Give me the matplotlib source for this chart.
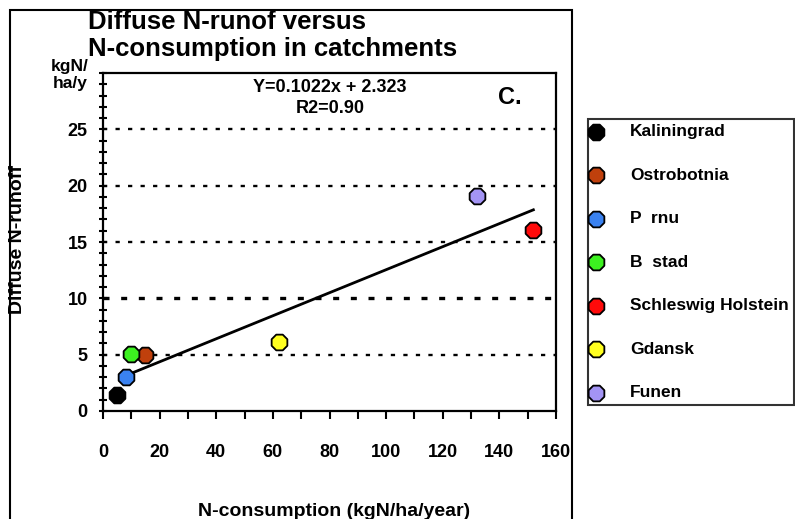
import matplotlib
matplotlib.use("Agg")
import matplotlib.pyplot as plt
from matplotlib.patches import Rectangle
from matplotlib.ticker import MultipleLocator

plt.rcParams['font.family'] = ['Liberation Sans', 'DejaVu Sans']
plt.rcParams['font.weight'] = 'bold'

# data
regions = ['Kaliningrad', 'Ostrobotnia', 'P  rnu', 'B  stad', 'Schleswig Holstein', 'Gdansk', 'Funen']
n_consumption = [5, 15, 8, 10, 152, 62, 132]
n_runoff = [1.4, 5.0, 3.0, 5.1, 16.1, 6.1, 19.1]
colors = ['#000000', '#c0400c', '#3a82f0', '#3cf020', '#ff0a0a', '#ffff20', '#a394f4']

slope, intercept = 0.1022, 2.323
fit_x = [8, 152]

fig = plt.figure(figsize=(7.95, 5.19), dpi=100)
ax = fig.add_axes([0.1296, 0.2081, 0.5698, 0.6512])

# outer frame
fig.patches.append(Rectangle((10 / 795, -0.05), (572 - 10) / 795, (519 - 10) / 519 + 0.05,
                             transform=fig.transFigure, fill=False, lw=1.5, ec='black'))

for y in [5, 10, 15, 20, 25]:
    ax.axhline(y, color='black', lw=2.4 if y == 10 else 1.7, ls=(0, (1.8, 3.5)), zorder=1)

ax.plot(fit_x, [slope * x + intercept for x in fit_x], color='black', lw=2, zorder=2)

for i in range(len(regions)):
    ax.scatter(n_consumption[i], n_runoff[i], s=150, marker='8', color=colors[i],
               edgecolor='black', linewidth=1.3, zorder=3, label=regions[i])

ax.set_xlim(0, 160)
ax.set_ylim(0, 30)
ax.xaxis.set_major_locator(MultipleLocator(20))
ax.xaxis.set_minor_locator(MultipleLocator(10))
ax.set_yticks([0, 5, 10, 15, 20, 25])
ax.yaxis.set_minor_locator(MultipleLocator(1))
ax.tick_params(axis='x', which='both', direction='out', length=6, width=1.5, pad=18, labelsize=13)
ax.tick_params(axis='y', which='both', direction='inout', length=6, width=1.5, pad=8, labelsize=13)
for s in ax.spines.values():
    s.set_linewidth(1.6)

fig.text(88 / 795, 1 - 22 / 519, 'Diffuse N-runof versus', fontsize=18.5,
         fontweight='bold', va='center', ha='left')
fig.text(88 / 795, 1 - 49 / 519, 'N-consumption in catchments', fontsize=18.5,
         fontweight='bold', va='center', ha='left')
fig.text(70 / 795, 1 - 75 / 519, 'kgN/\nha/y', fontsize=12.5, fontweight='bold', ha='center', va='center')
fig.text(18 / 795, 1 - 240 / 519, 'Diffuse N-runoff', fontsize=14, fontweight='bold',
         rotation=90, ha='center', va='center')
fig.text(334 / 795, 1 - 511 / 519, 'N-consumption (kgN/ha/year)', fontsize=14,
         fontweight='bold', ha='center', va='center')
fig.text(330 / 795, 1 - 98 / 519, 'Y=0.1022x + 2.323\nR2=0.90', fontsize=13,
         fontweight='bold', ha='center', va='center', linespacing=1.3)
fig.text(510 / 795, 1 - 98 / 519, 'C.', fontsize=17, fontweight='bold', ha='center', va='center')

leg = ax.legend(loc='upper left', bbox_to_anchor=(588 / 795, 1 - 119 / 519),
                bbox_transform=fig.transFigure, fontsize=12.5, frameon=True, fancybox=False,
                edgecolor='black', labelspacing=1.63, handletextpad=1.82, borderpad=0.3,
                borderaxespad=0, handlelength=0.3, scatterpoints=1)
leg.get_frame().set_linewidth(1.5)

fig.savefig('out.png', dpi=100)
